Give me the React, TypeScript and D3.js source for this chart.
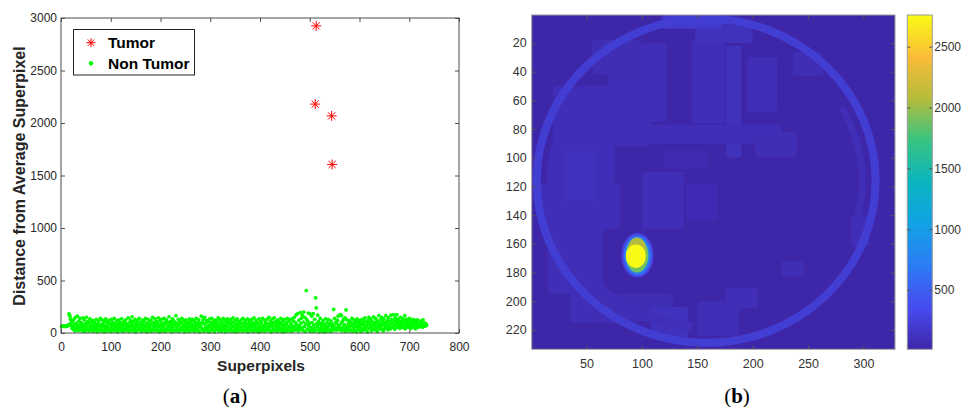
import { useEffect, useRef } from "react";
import * as d3 from "d3";

const W = 963;
const H = 407;

// ---- (a) scatter data ----
const tumorX = [513, 511, 544, 545];
const tumorY = [2925, 2180, 2068, 1605];
// distance for superpixel i+1
const nonTumorY = [
  62, 64, 66, 65, 63, 67, 64, 66, 65, 63, 64, 66, 68, 72, 80, 182, 175, 160, 130, 95,
  70, 45, 110, 60, 35, 130, 85, 20, 150, 55, 95, 40, 160, 70, 25, 115, 50, 140, 85, 30,
  100, 60, 20, 145, 75, 40, 125, 15, 90, 55, 150, 30, 80, 110, 45, 20, 95, 135, 60, 25,
  105, 70, 40, 120, 15, 85, 55, 100, 30, 65, 130, 45, 10, 90, 75, 115, 35, 60, 140, 20,
  80, 50, 125, 25, 95, 65, 10, 110, 40, 135, 70, 20, 100, 55, 30, 120, 85, 45, 15, 90,
  130, 60, 35, 105, 75, 20, 140, 50, 90, 25, 65, 115, 40, 10, 85, 125, 55, 30, 100, 70,
  20, 135, 45, 95, 60, 15, 110, 80, 35, 125, 50, 90, 25, 70, 145, 40, 15, 100, 65, 120,
  30, 85, 155, 55, 20, 110, 75, 40, 130, 10, 95, 60, 25, 115, 80, 45, 140, 35, 70, 105,
  15, 90, 50, 125, 30, 75, 110, 20, 60, 140, 45, 95, 10, 80, 130, 55, 25, 105, 70, 40,
  120, 15, 85, 150, 50, 30, 100, 65, 135, 20, 75, 110, 45, 90, 25, 145, 60, 10, 115, 80,
  35, 130, 55, 95, 20, 70, 140, 40, 105, 15, 85, 125, 50, 30, 100, 65, 155, 25, 75, 110,
  45, 90, 10, 135, 60, 120, 30, 80, 105, 20, 165, 55, 95, 40, 70, 130, 15, 85, 115, 50,
  25, 100, 140, 60, 35, 80, 120, 10, 90, 55, 125, 30, 75, 105, 45, 15, 95, 135, 65, 20,
  110, 50, 85, 130, 25, 70, 40, 115, 15, 95, 60, 140, 35, 80, 100, 20, 125, 55, 10, 90,
  70, 160, 45, 105, 30, 130, 15, 85, 150, 50, 95, 25, 120, 65, 40, 110, 10, 75, 135, 55,
  20, 100, 140, 45, 80, 30, 115, 60, 10, 90, 125, 35, 70, 105, 50, 145, 20, 85, 130, 40,
  65, 110, 15, 95, 55, 140, 30, 75, 120, 45, 10, 100, 65, 135, 25, 85, 115, 50, 20, 90,
  130, 40, 70, 105, 15, 145, 60, 95, 30, 120, 55, 10, 85, 135, 40, 75, 110, 20, 65, 100,
  35, 125, 50, 90, 15, 140, 70, 30, 105, 60, 120, 20, 85, 45, 135, 10, 95, 65, 115, 40,
  80, 25, 130, 55, 100, 15, 75, 145, 35, 90, 60, 120, 20, 105, 45, 85, 10, 135, 65, 30,
  110, 50, 95, 20, 140, 70, 35, 125, 60, 15, 100, 80, 45, 130, 25, 90, 55, 150, 30, 75,
  115, 10, 85, 60, 135, 40, 100, 20, 145, 70, 30, 110, 55, 90, 15, 125, 65, 40, 105, 80,
  25, 140, 50, 95, 10, 120, 75, 35, 130, 60, 15, 100, 85, 45, 140, 20, 110, 65, 30, 125,
  55, 90, 15, 135, 70, 40, 115, 25, 150, 60, 100, 30, 175, 80, 45, 185, 20, 120, 65, 35,
  195, 90, 140, 50, 170, 25, 105, 200, 60, 150, 15, 85, 405, 130, 40, 110, 190, 70, 20, 95,
  180, 55, 30, 160, 100, 15, 185, 75, 45, 130, 20, 335, 240, 90, 60, 170, 35, 110, 10, 80,
  140, 50, 25, 95, 65, 15, 120, 40, 85, 10, 75, 135, 45, 20, 100, 60, 130, 30, 90, 90,
  15, 70, 115, 40, 20, 85, 55, 225, 65, 140, 35, 105, 25, 90, 50, 120, 160, 70, 70, 30,
  175, 45, 95, 165, 20, 110, 60, 130, 35, 80, 145, 15, 220, 55, 125, 40, 70, 95, 20, 115,
  60, 30, 105, 75, 140, 15, 90, 50, 125, 25, 85, 65, 110, 10, 135, 45, 95, 70, 30, 120,
  55, 100, 15, 80, 130, 40, 90, 25, 115, 65, 145, 35, 75, 105, 50, 10, 120, 85, 150, 45,
  95, 60, 130, 20, 110, 75, 40, 155, 65, 100, 30, 140, 85, 50, 120, 15, 105, 70, 165, 45,
  90, 125, 60, 35, 150, 80, 110, 20, 135, 70, 45, 100, 165, 55, 90, 120, 30, 145, 75, 60,
  110, 40, 170, 85, 130, 50, 95, 175, 65, 120, 35, 145, 80, 105, 175, 55, 130, 90, 70, 115,
  45, 150, 85, 110, 60, 140, 95, 50, 125, 75, 165, 40, 100, 130, 65, 90, 115, 55, 80, 140,
  70, 100, 45, 125, 85, 60, 110, 130, 50, 95, 75, 120, 40, 105, 65, 90, 125, 55, 80, 70,
  100, 60, 85, 115, 70, 90, 55, 125, 75, 80, 65, 95, 70, 85, 75,
];
const scatterXTicks = [0, 100, 200, 300, 400, 500, 600, 700, 800];
const scatterYTicks = [0, 500, 1000, 1500, 2000, 2500, 3000];

// ---- (b) distance map ----
const imgXTicks = [50, 100, 150, 200, 250, 300];
const imgYTicks = [20, 40, 60, 80, 100, 120, 140, 160, 180, 200, 220];
const cbarTicks = [500, 1000, 1500, 2000, 2500];
const valueRange = [13, 2760];
const parulaStops = ["#3e26a8", "#474cf0", "#2c7cf5", "#12a2e5", "#0ab5bf", "#38c481", "#b5bd3c", "#fbbc38", "#f9fb15"];
const backgroundValue = 13;
// skull ring: cx, cy, rx, ry, stroke px, value
const rings = [[158, 116, 153, 113, 8, 220]];
// inner partial arcs: cx, cy, rx, ry, start deg, end deg, stroke px, value
const arcs = [
  [158, 116, 140, 102, 95, 205, 8, 95],
  [158, 116, 141, 103, 330, 375, 7, 80],
];
// superpixel patches: x0, y0, x1, y1, value
const patches = [
  [20, 50, 75, 118, 95], [8, 118, 80, 150, 90], [15, 150, 65, 195, 85], [35, 195, 95, 215, 80],
  [70, 40, 108, 92, 85], [55, 18, 100, 42, 75], [100, 20, 122, 75, 95], [145, 18, 175, 76, 95],
  [176, 22, 190, 100, 100], [80, 77, 226, 90, 90], [148, 6, 200, 20, 100], [118, 0, 172, 10, 190],
  [195, 30, 222, 68, 80], [202, 82, 240, 100, 75], [100, 110, 138, 150, 80], [140, 118, 168, 144, 70],
  [60, 195, 128, 214, 75], [108, 204, 142, 226, 110], [150, 200, 188, 224, 85], [226, 172, 246, 183, 75],
  [175, 191, 205, 205, 80], [289, 140, 306, 162, 90], [236, 26, 264, 43, 75], [30, 95, 60, 130, 110],
  [120, 95, 160, 108, 60],
];
// tumour blob layers: cx, cy, rx, ry, value
const tumorLayers = [
  [96, 168, 14.5, 15.5, 300],
  [96, 168, 12.3, 13.7, 700],
  [95.7, 168, 10.2, 12, 1880],
  [95.5, 164, 8, 8.5, 2080],
  [94.5, 168.6, 9.1, 8.2, 2760],
];

const font = "Liberation Sans, Arial, sans-serif";

function asterisk(g, x, y, s) {
  const d = s / 2;
  const k = d * 0.72;
  g.append("path")
    .attr("d", `M${x - d},${y}H${x + d}M${x},${y - d}V${y + d}M${x - k},${y - k}L${x + k},${y + k}M${x - k},${y + k}L${x + k},${y - k}`)
    .attr("stroke", "#ff0000")
    .attr("stroke-width", 1)
    .attr("fill", "none");
}

const App = () => {
  const svgRef = useRef(null);

  useEffect(() => {
    const svg = d3.select(svgRef.current);
    svg.selectAll("*").remove();
    const fmt = d3.format("d");

    // ===== (a) scatter =====
    const x = d3.scaleLinear().domain([0, 800]).range([61, 459]);
    const y = d3.scaleLinear().domain([0, 3000]).range([333, 18]);
    const gA = svg.append("g");

    const styleAxis = (g, color) => {
      g.select(".domain").remove();
      g.selectAll("line").attr("stroke", "#4d4d4d");
      g.selectAll("text").attr("font-family", font).attr("font-size", 12).attr("fill", color);
    };

    gA.append("g").attr("transform", "translate(0,333)")
      .call(d3.axisBottom(x).tickValues(scatterXTicks).tickFormat(fmt).tickSize(-4).tickSizeOuter(0).tickPadding(9.5))
      .call((g) => styleAxis(g, "#262626"));
    gA.append("g").attr("transform", "translate(0,18)")
      .call(d3.axisTop(x).tickValues(scatterXTicks).tickSize(-4).tickSizeOuter(0).tickFormat(() => ""))
      .call((g) => styleAxis(g, "#262626"));
    gA.append("g").attr("transform", "translate(61,0)")
      .call(d3.axisLeft(y).tickValues(scatterYTicks).tickFormat(fmt).tickSize(-4).tickSizeOuter(0).tickPadding(4))
      .call((g) => styleAxis(g, "#262626"));
    gA.append("g").attr("transform", "translate(459,0)")
      .call(d3.axisRight(y).tickValues(scatterYTicks).tickSize(-4).tickSizeOuter(0).tickFormat(() => ""))
      .call((g) => styleAxis(g, "#262626"));

    gA.selectAll("circle.nt")
      .data(nonTumorY)
      .join("circle")
      .attr("class", "nt")
      .attr("cx", (d, i) => x(i + 1))
      .attr("cy", (d) => y(d))
      .attr("r", 1.85)
      .attr("fill", "#00ff00");

    tumorX.forEach((tx, i) => asterisk(gA, x(tx), y(tumorY[i]), 10));

    gA.append("rect")
      .attr("x", 61).attr("y", 18).attr("width", 398).attr("height", 315)
      .attr("fill", "none").attr("stroke", "#4d4d4d").attr("stroke-width", 1);

    // legend
    gA.append("rect")
      .attr("x", 73.5).attr("y", 29.5).attr("width", 121).attr("height", 45.5)
      .attr("fill", "#fff").attr("stroke", "#262626").attr("stroke-width", 1);
    asterisk(gA, 91, 42.7, 9);
    gA.append("circle").attr("cx", 91).attr("cy", 63.3).attr("r", 2.2).attr("fill", "#00ff00");
    gA.append("text").attr("x", 108).attr("y", 48).text("Tumor")
      .attr("font-family", font).attr("font-size", 15.5).attr("font-weight", "bold").attr("fill", "#000");
    gA.append("text").attr("x", 108).attr("y", 69).text("Non Tumor")
      .attr("font-family", font).attr("font-size", 15.5).attr("font-weight", "bold").attr("fill", "#000");

    gA.append("text")
      .attr("transform", "translate(25,176) rotate(-90)")
      .attr("text-anchor", "middle")
      .attr("font-family", font).attr("font-size", 16).attr("font-weight", "bold").attr("fill", "#262626")
      .text("Distance from Average Superpixel");
    gA.append("text")
      .attr("x", 261).attr("y", 371)
      .attr("text-anchor", "middle")
      .attr("font-family", font).attr("font-size", 15.5).attr("font-weight", "bold").attr("fill", "#262626")
      .text("Superpixels");

    // ===== (b) image =====
    const ix = d3.scaleLinear().domain([0.5, 328.5]).range([531.7, 895]);
    const iy = d3.scaleLinear().domain([0.5, 233.5]).range([15, 349.3]);
    const kx = ix(1) - ix(0);
    const ky = iy(1) - iy(0);
    const color = d3.scaleSequential(d3.piecewise(d3.interpolateRgb, parulaStops)).domain(valueRange);

    const defs = svg.append("defs");
    defs.append("clipPath").attr("id", "imgClip")
      .append("rect").attr("x", ix(0.5)).attr("y", iy(0.5))
      .attr("width", ix(328.5) - ix(0.5)).attr("height", iy(233.5) - iy(0.5));
    defs.append("filter").attr("id", "soft")
      .append("feGaussianBlur").attr("stdDeviation", 0.6);

    const gB = svg.append("g");
    const img = gB.append("g").attr("clip-path", "url(#imgClip)");
    img.append("rect")
      .attr("x", ix(0.5)).attr("y", iy(0.5))
      .attr("width", ix(328.5) - ix(0.5)).attr("height", iy(233.5) - iy(0.5))
      .attr("fill", color(backgroundValue));
    const inner = img.append("g").attr("filter", "url(#soft)");
    inner.selectAll("rect.p")
      .data(patches)
      .join("rect")
      .attr("class", "p")
      .attr("x", (d) => ix(d[0]))
      .attr("y", (d) => iy(d[1]))
      .attr("width", (d) => ix(d[2]) - ix(d[0]))
      .attr("height", (d) => iy(d[3]) - iy(d[1]))
      .attr("rx", 3)
      .attr("fill", (d) => color(d[4]));
    inner.selectAll("path.a")
      .data(arcs)
      .join("path")
      .attr("class", "a")
      .attr("d", (d) => {
        const [cx, cy, rx, ry, a0, a1] = d;
        const p = (a) => [ix(cx) + rx * kx * Math.cos((a * Math.PI) / 180), iy(cy) + ry * ky * Math.sin((a * Math.PI) / 180)];
        const [x0, y0] = p(a0);
        const [x1, y1] = p(a1);
        return `M${x0},${y0}A${rx * kx},${ry * ky} 0 0 1 ${x1},${y1}`;
      })
      .attr("fill", "none")
      .attr("stroke", (d) => color(d[7]))
      .attr("stroke-width", (d) => d[6]);
    inner.selectAll("ellipse.r")
      .data(rings)
      .join("ellipse")
      .attr("class", "r")
      .attr("cx", (d) => ix(d[0]))
      .attr("cy", (d) => iy(d[1]))
      .attr("rx", (d) => d[2] * kx)
      .attr("ry", (d) => d[3] * ky)
      .attr("fill", "none")
      .attr("stroke", (d) => color(d[5]))
      .attr("stroke-width", (d) => d[4]);
    inner.selectAll("ellipse.t")
      .data(tumorLayers)
      .join("ellipse")
      .attr("class", "t")
      .attr("cx", (d) => ix(d[0]))
      .attr("cy", (d) => iy(d[1]))
      .attr("rx", (d) => d[2] * kx)
      .attr("ry", (d) => d[3] * ky)
      .attr("fill", (d) => color(d[4]));

    const styleAxisB = (g) => {
      g.select(".domain").remove();
      g.selectAll("line").attr("stroke", "#555");
      g.selectAll("text").attr("font-family", font).attr("font-size", 12.5).attr("fill", "#333");
    };
    gB.append("g").attr("transform", "translate(0,349.3)")
      .call(d3.axisBottom(ix).tickValues(imgXTicks).tickFormat(fmt).tickSize(-4).tickSizeOuter(0).tickPadding(9.8))
      .call(styleAxisB);
    gB.append("g").attr("transform", "translate(0,15)")
      .call(d3.axisTop(ix).tickValues(imgXTicks).tickSize(-4).tickSizeOuter(0).tickFormat(() => ""))
      .call(styleAxisB);
    gB.append("g").attr("transform", "translate(531.7,0)")
      .call(d3.axisLeft(iy).tickValues(imgYTicks).tickFormat(fmt).tickSize(-4).tickSizeOuter(0).tickPadding(5))
      .call(styleAxisB);
    gB.append("g").attr("transform", "translate(895,0)")
      .call(d3.axisRight(iy).tickValues(imgYTicks).tickSize(-4).tickSizeOuter(0).tickFormat(() => ""))
      .call(styleAxisB);
    gB.append("rect")
      .attr("x", ix(0.5)).attr("y", iy(0.5))
      .attr("width", ix(328.5) - ix(0.5)).attr("height", iy(233.5) - iy(0.5))
      .attr("fill", "none").attr("stroke", "#9a9a9a").attr("stroke-width", 1);

    // colorbar
    const cy = d3.scaleLinear().domain(valueRange).range([349.3, 15]);
    const grad = defs.append("linearGradient").attr("id", "cbar")
      .attr("x1", 0).attr("y1", 1).attr("x2", 0).attr("y2", 0);
    parulaStops.forEach((c, i) => {
      grad.append("stop").attr("offset", i / (parulaStops.length - 1)).attr("stop-color", c);
    });
    gB.append("rect")
      .attr("x", 907.3).attr("y", 15).attr("width", 25).attr("height", 334.3)
      .attr("fill", "url(#cbar)").attr("stroke", "#9a9a9a").attr("stroke-width", 1);
    gB.append("g").attr("transform", "translate(932.3,0)")
      .call(d3.axisRight(cy).tickValues(cbarTicks).tickFormat(fmt).tickSize(-3).tickSizeOuter(0).tickPadding(2))
      .call(styleAxisB)
      .call((g) => g.selectAll("text").attr("font-size", 12));
    gB.append("g").attr("transform", "translate(907.3,0)")
      .call(d3.axisLeft(cy).tickValues(cbarTicks).tickSize(-3).tickSizeOuter(0).tickFormat(() => ""))
      .call(styleAxisB);

    // captions
    const cap = (cx, letter) => {
      const t = svg.append("text")
        .attr("x", cx).attr("y", 403)
        .attr("text-anchor", "middle")
        .attr("font-family", "Liberation Serif, Times New Roman, serif")
        .attr("font-size", 21)
        .attr("fill", "#000");
      t.append("tspan").text("(");
      t.append("tspan").attr("font-weight", "bold").text(letter);
      t.append("tspan").text(")");
    };
    cap(235, "a");
    cap(737, "b");
  }, []);

  return (
    <svg
      ref={svgRef}
      width={W}
      height={H}
      style={{ position: "absolute", left: 0, top: 0, background: "#fff" }}
    ></svg>
  );
};

export default App;
